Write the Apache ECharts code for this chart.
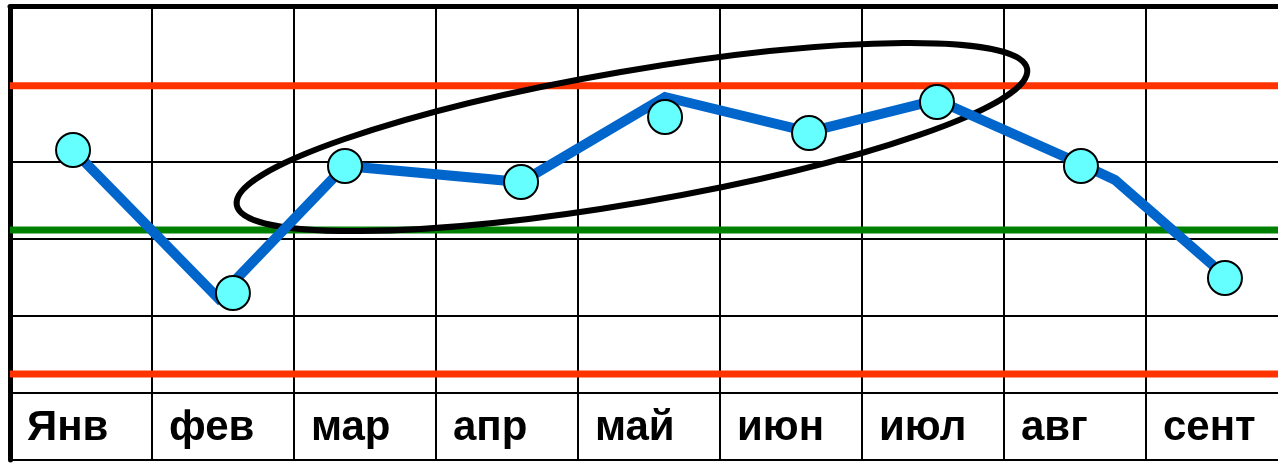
<!DOCTYPE html>
<html>
<head>
<meta charset="utf-8">
<script src="https://cdn.jsdelivr.net/npm/echarts@6/dist/echarts.min.js"></script>
<style>
  html, body { margin: 0; padding: 0; background: #fff; }
  #chart-box { width: 1278px; height: 463px; }
</style>
</head>
<body>
<div id="chart-box"></div>
<script>
// months in the bottom row
var months = ['Янв', 'фев', 'мар', 'апр', 'май', 'июн', 'июл', 'авг', 'сент'];
// column units on x (0..9, the last column is cut by the edge), row units on y (0..5)
var pointX = [0.444, 1.570, 2.359, 3.599, 4.613, 5.627, 6.528, 7.542, 8.556];
var pointY = [3.156, 1.299, 2.948, 2.740, 3.584, 3.377, 3.779, 2.948, 1.494];
// the blue polyline has its own vertices (not quite through the dots)
var lineX = [0.444, 1.465, 2.359, 3.599, 4.613, 5.627, 6.528, 7.542, 7.782, 8.493];
var lineY = [3.156, 1.234, 2.948, 2.740, 3.844, 3.390, 3.805, 2.974, 2.766, 1.623];
// limit lines
var upperLimit = 3.99;
var middleLine = 2.117;
var lowerLimit = 0.247;
// the ring drawn around mar..июл: centre and half axes in axis units
var ringCenter = [4.380, 3.325];
var ringHalf = [2.824, 0.857];

var xMax = 1268 / 142; // visible part of the 9 columns

var pairs = function (xs, ys) {
  return xs.map(function (x, i) { return [x, ys[i]]; });
};

var chartObj = echarts.init(document.getElementById('chart-box'));
var gridLine = { showMaxLine: false, lineStyle: { color: '#000', width: 2 } };

var option = {
  animation: false,
  grid: [
    { left: 10, top: 8, right: 0, height: 385 },
    { left: 10, top: 393, right: 0, height: 67 }
  ],
  xAxis: [
    {
      type: 'value', gridIndex: 0, min: 0, max: xMax, interval: 1,
      axisLine: { lineStyle: { color: '#000', width: 2 } },
      axisTick: { show: false }, axisLabel: { show: false },
      splitLine: gridLine
    },
    {
      type: 'value', gridIndex: 0, position: 'top', offset: 2, min: 0, max: xMax,
      axisLine: { lineStyle: { color: '#000', width: 5 } },
      axisTick: { show: false }, axisLabel: { show: false }, splitLine: { show: false }
    },
    {
      type: 'value', gridIndex: 1, min: 0, max: xMax, interval: 1,
      axisLine: { lineStyle: { color: '#000', width: 2 } },
      axisTick: { show: false },
      splitLine: gridLine,
      axisLabel: {
        inside: true,
        margin: 32,
        align: 'left',
        verticalAlign: 'middle',
        padding: [0, 0, 0, 17],
        color: '#000',
        fontFamily: 'Liberation Sans, Arial, sans-serif',
        fontWeight: 'bold',
        fontSize: 42,
        showMaxLabel: false,
        formatter: function (v) { return months[v] || ''; }
      }
    }
  ],
  yAxis: [
    {
      type: 'value', gridIndex: 0, min: 0, max: 5, interval: 1,
      axisLine: { show: true, lineStyle: { color: '#000', width: 5 } },
      axisTick: { show: false }, axisLabel: { show: false },
      splitLine: { lineStyle: { color: '#000', width: 2 } }
    },
    {
      type: 'value', gridIndex: 1, min: 0, max: 1,
      axisLine: { show: true, lineStyle: { color: '#000', width: 5 } },
      axisTick: { show: false }, axisLabel: { show: false }, splitLine: { show: false }
    }
  ],
  series: [
    {
      type: 'line', z: 3, symbol: 'none',
      data: [[0, upperLimit], [xMax, upperLimit]],
      lineStyle: { color: '#FF3300', width: 7 }
    },
    {
      type: 'line', z: 3, symbol: 'none',
      data: [[0, lowerLimit], [xMax, lowerLimit]],
      lineStyle: { color: '#FF3300', width: 7 }
    },
    {
      type: 'line', z: 3, symbol: 'none',
      data: [[0, middleLine], [xMax, middleLine]],
      lineStyle: { color: '#008000', width: 7 }
    },
    {
      type: 'custom', z: 4,
      data: [ringCenter],
      renderItem: function (params, api) {
        var c = api.coord([api.value(0), api.value(1)]);
        var s = api.size(ringHalf);
        return {
          type: 'ellipse',
          x: c[0], y: c[1],
          rotation: 9.75 * Math.PI / 180,
          shape: { cx: 0, cy: 0, rx: s[0], ry: s[1] },
          style: { fill: 'none', stroke: '#000', lineWidth: 6 }
        };
      }
    },
    {
      type: 'line', z: 5, symbol: 'none',
      data: pairs(lineX, lineY),
      lineStyle: { color: '#0066CC', width: 10, join: 'miter' }
    },
    {
      type: 'scatter', z: 6, symbol: 'circle', symbolSize: 34,
      data: pairs(pointX, pointY),
      itemStyle: { color: '#66FFFF', borderColor: '#000', borderWidth: 2, opacity: 1 }
    }
  ]
};
chartObj.setOption(option);
</script>
</body>
</html>
